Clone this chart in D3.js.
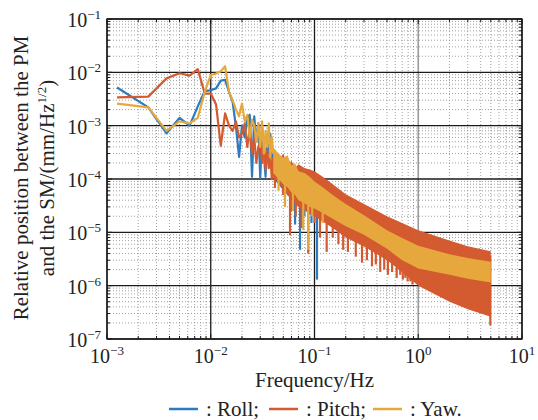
<!DOCTYPE html>
<html>
<head>
<meta charset="utf-8">
<script src="https://d3js.org/d3.v7.min.js"></script>
<style>
  body { margin: 0; background: #fff; }
</style>
</head>
<body>
<div id="vis"></div>
<script>
// ---- data ----
var seriesNames = ["Roll", "Pitch", "Yaw"];
var seriesColors = ["#2a7bbf", "#d45a30", "#e6a83c"];

// low frequency part, one point per frequency bin
var lowFreq = [0.00125,0.0025,0.00375,0.005,0.00625,0.0075,0.00875,0.01,0.01125,0.0125,
               0.01375,0.015,0.01625,0.0175,0.01875,0.02,0.02125,0.0225,0.02375,0.025,
               0.02625,0.0275,0.02875,0.03,0.03125,0.0325,0.03375,0.035,0.03625,0.0375,0.03875,0.04];
var rollLow  = [5.2e-3,2.2e-3,7.2e-4,1.4e-3,1.0e-3,2.3e-3,4.5e-3,4.6e-3,5.0e-3,7.0e-3,
                7.2e-3,4.3e-3,2.8e-3,9.5e-4,2.6e-4,1.0e-3,6e-4,1.4e-3,1.6e-3,1.1e-4,
                1.5e-3,5e-4,1.1e-3,1.05e-4,9e-4,3e-4,1.1e-4,6e-4,3e-4,7e-4,2.5e-4,3e-4];
var pitchLow = [3.4e-3,3.5e-3,7.7e-3,9.6e-3,8.7e-3,1.15e-2,4.0e-3,4.0e-3,2.5e-3,4.2e-4,
                1.7e-3,1.0e-3,8e-4,1.2e-3,6e-4,7e-4,1.1e-3,4e-4,9e-4,3e-4,
                6e-4,2e-4,4e-4,5e-4,2e-4,4.5e-4,1.5e-4,3.5e-4,1.6e-4,3e-4,1e-4,2.5e-4];
var yawLow   = [2.6e-3,2.2e-3,8e-4,1.2e-3,1.1e-3,1.4e-3,4.3e-3,8.9e-3,9.5e-3,1.05e-2,
                1.3e-2,4.3e-3,3.0e-3,2.0e-3,1.5e-3,2.6e-3,1.2e-3,1.6e-3,6e-4,1.3e-3,
                1.0e-3,5e-4,1.1e-3,4e-4,1.2e-3,3e-4,8e-4,4e-4,1.1e-3,2.5e-4,6e-4,3e-4];

// high frequency part: dense oscillation, kept as upper / lower envelope
var bandFreq = [0.04,0.045,0.05,0.055,0.06,0.065,0.07,0.08,0.09,0.1,0.12,0.15,0.2,0.3,0.5,0.7,1,2,3,5];
var rollHi  = [3.5e-4,2.5e-4,2e-4,1.5e-4,1.3e-4,1.2e-4,1.1e-4,9e-5,8e-5,7e-5,5.5e-5,4e-5,3e-5,1.9e-5,1e-5,7e-6,5e-6,3.5e-6,3e-6,2.5e-6];
var rollLo  = [1e-4,8e-5,6e-5,5e-5,4e-5,3.5e-5,3e-5,2.7e-5,2.4e-5,2.2e-5,1.8e-5,1.4e-5,1e-5,7e-6,4.2e-6,3e-6,2.3e-6,1.7e-6,1.4e-6,1.2e-6];
var pitchHi = [3e-4,2.2e-4,3e-4,1.8e-4,2.2e-4,1.6e-4,1.9e-4,1.6e-4,1.5e-4,1.4e-4,1.1e-4,8e-5,5.2e-5,3.4e-5,2e-5,1.5e-5,1.1e-5,7e-6,5.5e-6,4.4e-6];
var pitchLo = [1.2e-4,8e-5,7e-5,5e-5,4.5e-5,3.5e-5,3e-5,2.6e-5,2.2e-5,2e-5,1.6e-5,1.2e-5,8e-6,5.4e-6,3e-6,1.8e-6,1e-6,5e-7,3.6e-7,2.6e-7];
var yawHi   = [4e-4,3e-4,2.5e-4,2.8e-4,1.8e-4,2e-4,1.4e-4,1.3e-4,1.1e-4,9e-5,7e-5,5e-5,3.4e-5,2.1e-5,1.1e-5,7.8e-6,5.6e-6,3.9e-6,3.3e-6,2.8e-6];
var yawLo   = [1.3e-4,1e-4,8e-5,7e-5,5.5e-5,5e-5,4e-5,3.5e-5,3e-5,2.8e-5,2.3e-5,1.8e-5,1.3e-5,9e-6,4.9e-6,3e-6,2.1e-6,1.6e-6,1.35e-6,1.15e-6];

// deep notches that stick out under the envelopes
var rollDipF  = [0.0532,0.059,0.065,0.0725,0.08,0.0935,0.1057,0.125,0.177,0.25,0.31];
var rollDipV  = [7e-5,2.5e-5,1.4e-5,4.7e-6,2e-5,1.5e-5,1.3e-6,1.6e-5,1.2e-5,9e-6,7e-6];
var pitchDipF = [0.0416,0.0499,0.0581,0.066,0.075,0.087,0.1,0.113,0.131,0.15,0.17,0.189,0.21,0.25,0.287,
                 0.32,0.358,0.39,0.43,0.47,0.51,0.56,0.62,0.67,0.71,0.75,0.79,0.84,0.88,4.95];
var pitchDipV = [6.8e-5,5e-5,8.8e-6,2e-5,1.2e-5,4e-6,1.5e-5,8e-6,4.3e-6,8e-6,6e-6,4.7e-6,4.3e-6,3.5e-6,2.7e-6,
                 3e-6,2.3e-6,2.5e-6,1.8e-6,2e-6,1.6e-6,1.8e-6,1.4e-6,1.6e-6,1.3e-6,1.4e-6,1.2e-6,1.2e-6,1.05e-6,1.8e-7];
var yawDipF   = [0.045,0.052,0.062,0.078,0.087,0.095,0.12];
var yawDipV   = [6e-5,3e-5,2.5e-5,1.1e-5,4.7e-6,2e-5,1.5e-5];

var xTickExp = [-3,-2,-1,0,1];
var yTickExp = [-7,-6,-5,-4,-3,-2,-1];

// ---- layout ----
var width = 538, height = 420;
var pL = 107, pR = 522, pT = 19, pB = 339;
var serif = "'Liberation Serif', 'Times New Roman', Times, 'DejaVu Serif', serif";

var svg = d3.select("#vis").append("svg")
  .attr("width", width).attr("height", height)
  .attr("font-family", serif)
  .style("font-family", serif);

var x = d3.scaleLog().domain([1e-3, 10]).range([pL, pR]);
var y = d3.scaleLog().domain([1e-7, 1e-1]).range([pB, pT]);

svg.append("clipPath").attr("id", "clip")
  .append("rect").attr("x", pL).attr("y", pT)
  .attr("width", pR - pL).attr("height", pB - pT);

// minor grid
var isMajor = function(v) { return Math.abs(Math.log10(v) - Math.round(Math.log10(v))) < 1e-6; };
var grid = svg.append("g");
grid.selectAll(".mx").data(x.ticks().filter(function(v) { return !isMajor(v); }))
  .enter().append("line")
  .attr("x1", function(d) { return x(d); }).attr("x2", function(d) { return x(d); })
  .attr("y1", pT).attr("y2", pB)
  .attr("stroke", "#8a8a8a").attr("stroke-width", 0.8).attr("stroke-dasharray", "1,2");
grid.selectAll(".my").data(y.ticks().filter(function(v) { return !isMajor(v); }))
  .enter().append("line")
  .attr("y1", function(d) { return y(d); }).attr("y2", function(d) { return y(d); })
  .attr("x1", pL).attr("x2", pR)
  .attr("stroke", "#8a8a8a").attr("stroke-width", 0.8).attr("stroke-dasharray", "1,2");
// major grid
grid.selectAll(".Mx").data(xTickExp)
  .enter().append("line")
  .attr("x1", function(d) { return x(Math.pow(10, d)); }).attr("x2", function(d) { return x(Math.pow(10, d)); })
  .attr("y1", pT).attr("y2", pB)
  .attr("stroke", function(d) { return d === 0 ? "#9a9a9a" : "#1a1a1a"; })
  .attr("stroke-width", function(d) { return d === 0 ? 1.6 : 1.3; });
grid.selectAll(".My").data(yTickExp)
  .enter().append("line")
  .attr("y1", function(d) { return y(Math.pow(10, d)); }).attr("y2", function(d) { return y(Math.pow(10, d)); })
  .attr("x1", pL).attr("x2", pR)
  .attr("stroke", "#1a1a1a").attr("stroke-width", 1.3);

// ---- data marks ----
var plot = svg.append("g").attr("clip-path", "url(#clip)");
var lowSets  = [rollLow, pitchLow, yawLow];
var hiSets   = [rollHi, pitchHi, yawHi];
var loSets   = [rollLo, pitchLo, yawLo];
var dipFSets = [rollDipF, pitchDipF, yawDipF];
var dipVSets = [rollDipV, pitchDipV, yawDipV];

var line = d3.line().x(function(d) { return x(d[0]); }).y(function(d) { return y(d[1]); });
var area = d3.area()
  .x(function(d) { return x(d[0]); })
  .y0(function(d) { return y(d[2]); })
  .y1(function(d) { return y(d[1]); });

seriesNames.forEach(function(name, i) {
  var col = seriesColors[i];
  var g = plot.append("g");
  var band = bandFreq.map(function(f, j) { return [f, hiSets[i][j], loSets[i][j]]; });
  g.append("path").datum(band).attr("d", area).attr("fill", col);

  // notch columns, starting from the envelope bottom
  var loPix = d3.scaleLinear().domain(bandFreq.map(x)).range(loSets[i].map(y));
  var hiPix = d3.scaleLinear().domain(bandFreq.map(x)).range(hiSets[i].map(y));
  g.selectAll("line.dip").data(dipFSets[i].map(function(f, j) { return [f, dipVSets[i][j]]; }))
    .enter().append("line")
    .attr("x1", function(d) { return x(d[0]); }).attr("x2", function(d) { return x(d[0]); })
    .attr("y1", function(d) { return Math.min(hiPix(x(d[0])) + 4, loPix(x(d[0]))); })
    .attr("y2", function(d) { return y(d[1]); })
    .attr("stroke", col).attr("stroke-width", 2.2);

  var pts = lowFreq.map(function(f, j) { return [f, lowSets[i][j]]; });
  g.append("path").datum(pts).attr("d", line)
    .attr("fill", "none").attr("stroke", col).attr("stroke-width", 2.2)
    .attr("stroke-linejoin", "round");
});

// ---- frame and ticks ----
svg.append("rect").attr("x", pL).attr("y", pT)
  .attr("width", pR - pL).attr("height", pB - pT)
  .attr("fill", "none").attr("stroke", "#1a1a1a").attr("stroke-width", 1.3);

var ticks = svg.append("g").attr("stroke", "#1a1a1a").attr("stroke-width", 1);
x.ticks().forEach(function(v) {
  var len = isMajor(v) ? 5 : 3;
  ticks.append("line").attr("x1", x(v)).attr("x2", x(v)).attr("y1", pB).attr("y2", pB - len);
  ticks.append("line").attr("x1", x(v)).attr("x2", x(v)).attr("y1", pT).attr("y2", pT + len);
});
y.ticks().forEach(function(v) {
  var len = isMajor(v) ? 5 : 3;
  ticks.append("line").attr("y1", y(v)).attr("y2", y(v)).attr("x1", pL).attr("x2", pL + len);
  ticks.append("line").attr("y1", y(v)).attr("y2", y(v)).attr("x1", pR).attr("x2", pR - len);
});

// ---- tick labels ----
function powLabel(sel, e) {
  sel.append("tspan").text("10");
  sel.append("tspan").attr("dy", -8).attr("font-size", 13)
    .text(e < 0 ? "\u2212" + (-e) : String(e));
}
xTickExp.forEach(function(e) {
  var t = svg.append("text").attr("x", x(Math.pow(10, e))).attr("y", 363)
    .attr("text-anchor", "middle").attr("font-size", 20).attr("fill", "#222");
  powLabel(t, e);
});
yTickExp.forEach(function(e) {
  var t = svg.append("text").attr("x", 101).attr("y", y(Math.pow(10, e)) + 8)
    .attr("text-anchor", "end").attr("font-size", 20).attr("fill", "#222");
  powLabel(t, e);
});

// ---- axis titles ----
svg.append("text").attr("x", (pL + pR) / 2).attr("y", 387)
  .attr("text-anchor", "middle").attr("font-size", 21).attr("fill", "#222").text("Frequency/Hz");

svg.append("text").attr("transform", "translate(28,178) rotate(-90)")
  .attr("text-anchor", "middle").attr("font-size", 21).attr("fill", "#222")
  .text("Relative position between the PM");
var yl2 = svg.append("text").attr("transform", "translate(54,178) rotate(-90)")
  .attr("text-anchor", "middle").attr("font-size", 21).attr("fill", "#222");
yl2.append("tspan").text("and the SM/(mm/Hz");
yl2.append("tspan").attr("dy", -8).attr("font-size", 13).text("1/2");
yl2.append("tspan").attr("dy", 8).text(")");

// ---- legend ----
var legendX = [169, 269, 373];
var legendText = [": Roll;", ": Pitch;", ": Yaw."];
seriesNames.forEach(function(name, i) {
  svg.append("line").attr("x1", legendX[i]).attr("x2", legendX[i] + 29)
    .attr("y1", 409).attr("y2", 409)
    .attr("stroke", seriesColors[i]).attr("stroke-width", 2.5);
  svg.append("text").attr("x", legendX[i] + 37).attr("y", 416)
    .attr("font-size", 21).attr("fill", "#222").text(legendText[i]);
});
</script>
</body>
</html>
